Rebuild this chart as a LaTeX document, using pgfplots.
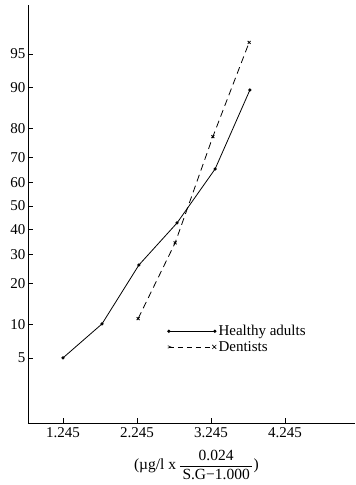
\documentclass[border=0pt]{standalone}
\usepackage{fontspec}
\setmainfont{Liberation Serif}
\usepackage{pgfplots}
\pgfplotsset{compat=1.18}
\begin{document}
\begin{tikzpicture}
\begin{axis}[name=ax, scale only axis, width=327pt, height=418pt,
  xmin=0.772, xmax=5.19, ymin=-2.35, ymax=2.175,
  axis lines*=left, axis line style={line width=0.9pt},
  tick align=inside, major tick length=5pt, tick style={line width=0.6pt, black},
  xtick={1.245,2.245,3.245,4.245}, xticklabels={1.245,2.245,3.245,4.245},
  ytick={-1.6449,-1.2816,-0.8416,-0.5244,-0.2533,0,0.2533,0.5244,0.8416,1.2816,1.6449},
  yticklabels={5,10,20,30,40,50,60,70,80,90,95},
  /pgf/number format/assume math mode=true,
  tick label style={font=\fontsize{15}{17}\selectfont},
  yticklabel style={xshift=1pt},
  xticklabel style={yshift=-1pt},
  xlabel={(\textmu g/l x\,$\displaystyle\frac{\mbox{\,0.024\,}}{\mbox{\,S.G−1.000\,}}$)},
  xlabel style={at={(rel axis cs:0.515,0)}, anchor=center, yshift=-42pt, font=\fontsize{15.5}{17}\selectfont},
  clip=false,
  legend cell align=left,
  legend style={draw=none, fill=none, at={(rel axis cs:0.425,0.239)}, anchor=north west,
    font=\fontsize{15}{17}\selectfont, row sep=0pt, inner sep=0pt},
]
% y values are normal quantiles (probit) of the cumulative percentage
\addplot[black, line width=0.8pt, mark=*, mark size=1.2pt,
  legend image code/.code={\draw[black, line width=0.8pt] (0pt,0pt) -- (46pt,0pt);
    \fill (0pt,0pt) circle (1.2pt); \fill (46pt,0pt) circle (1.2pt);}]
  coordinates {(1.245,-1.645) (1.772,-1.277) (2.27,-0.64) (2.786,-0.184) (3.30,0.40) (3.77,1.255)};
\addlegendentry{Healthy adults}
\addplot[black, line width=0.8pt, dash pattern=on 7pt off 4.5pt, mark=x, mark size=2pt,
  mark options={solid},
  legend image code/.code={\draw[black, line width=0.8pt, dash pattern=on 5pt off 4pt] (0pt,0pt) -- (46pt,0pt);
    \draw[black, line width=0.6pt] (-1pt,-1.2pt) -- (2pt,0pt) -- (-1pt,1.2pt);
    \draw[black, line width=0.6pt] (43.5pt,-2pt) -- (47.5pt,2pt) (43.5pt,2pt) -- (47.5pt,-2pt);}]
  coordinates {(2.26,-1.22) (2.76,-0.40) (3.27,0.75) (3.76,1.77)};
\addlegendentry{Dentists}
\end{axis}
\pgfresetboundingbox
\path (ax.south west) ++(-28pt,-62pt) rectangle ([shift={(0pt,5pt)}]ax.north east);
\end{tikzpicture}
\end{document}
